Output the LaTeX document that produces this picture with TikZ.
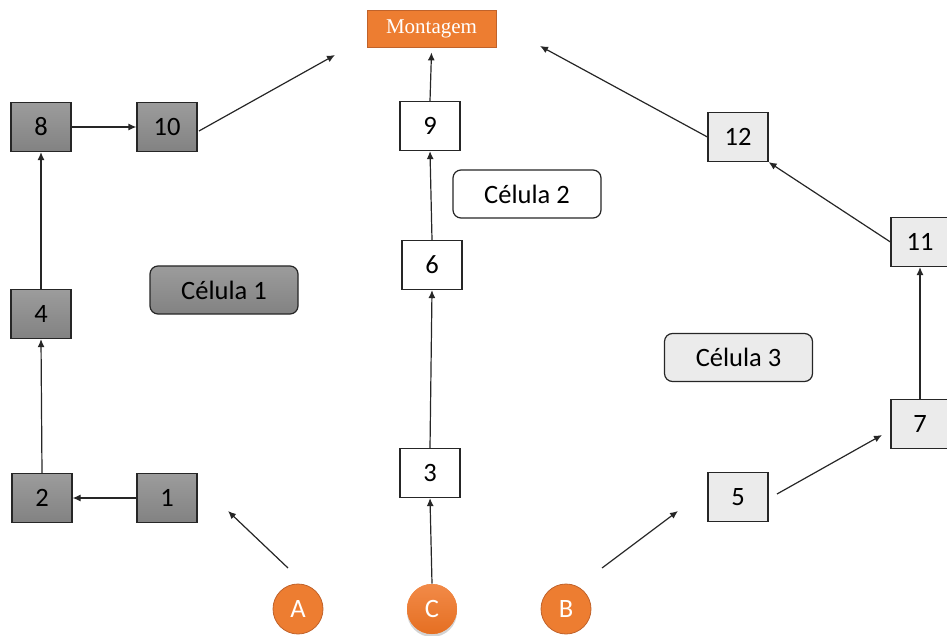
\documentclass[tikz,border=0pt]{standalone}
\usepackage{fontspec}
\setmainfont{Carlito}
\newfontfamily\titleface{Liberation Serif}
\usetikzlibrary{arrows.meta,shadows}

\definecolor{linegray}{HTML}{262626}
\definecolor{darkA}{HTML}{9C9C9C}
\definecolor{darkB}{HTML}{828282}
\definecolor{lightbox}{HTML}{EBEBEB}
\definecolor{orangefill}{HTML}{ED7D31}
\definecolor{orangeedge}{HTML}{C0622A}
\definecolor{orangetop}{HTML}{F28A48}
\definecolor{orangebot}{HTML}{E56F22}

\begin{document}
\begin{tikzpicture}[x=1pt,y=-1pt,
  every node/.style={inner sep=0pt, font=\fontsize{26.5}{30}\selectfont},
  station/.style={draw=linegray, line width=1.2pt, minimum width=60pt, minimum height=49pt},
  darkst/.style={station, top color=darkA, bottom color=darkB},
  whitest/.style={station, fill=white},
  lightst/.style={station, fill=lightbox},
  cellbox/.style={draw=linegray, line width=1.2pt, rounded corners=8pt, minimum width=148pt, minimum height=48pt},
  source/.style={circle, minimum size=50pt, text=white, draw=orangeedge, line width=0.8pt, fill=orangefill},
  conn/.style={draw=linegray, line width=1.2pt, -{Latex[length=8pt,width=7pt]}}]

\useasboundingbox (0,0) rectangle (947,636);

% assembly target
\node[draw=orangeedge, line width=0.8pt, fill=orangefill, minimum width=129pt, minimum height=37pt,
      text=white, font=\titleface\fontsize{21}{24}\selectfont] (mont) at (431.5,28.5) {Montagem};

% cell 1
\node[darkst] (s8)  at (41,127)  {8};
\node[darkst] (s10) at (167,127) {10};
\node[darkst] (s4)  at (41,314)  {4};
\node[darkst] (s2)  at (42,498)  {2};
\node[darkst] (s1)  at (167,498) {1};
\node[cellbox, top color=darkA, bottom color=darkB] (c1) at (224,290) {Célula 1};

% cell 2
\node[whitest] (s9) at (430,126) {9};
\node[whitest] (s6) at (432,265) {6};
\node[whitest] (s3) at (430,473) {3};
\node[cellbox, fill=white] (c2) at (527,194) {Célula 2};

% cell 3
\node[lightst] (s12) at (738,137) {12};
\node[lightst, minimum width=58pt] (s11) at (920,242) {11};
\node[lightst, minimum width=58pt] (s7)  at (920,424) {7};
\node[lightst] (s5)  at (738,497) {5};
\node[cellbox, fill=lightbox] (c3) at (738.5,357.5) {Célula 3};

% part sources
\node[source] (pa) at (298,609) {A};
\node[source, draw=none, top color=orangetop, bottom color=orangebot,
      drop shadow={opacity=0.35, shadow xshift=0pt, shadow yshift=-3pt}] (pc) at (432,609) {C};
\node[source] (pb) at (566,609) {B};

% free ends of the open connectors
\coordinate (m10) at (335,55);
\coordinate (t10) at (199,131);
\coordinate (m12) at (540,46);
\coordinate (a0) at (288,568);
\coordinate (a1) at (228,511);
\coordinate (b0) at (602,568);
\coordinate (b1) at (678,511);
\coordinate (t5) at (777,494);
\coordinate (h7) at (882,435);

% flows
\draw[conn] (s1.west) -- (s2.east);
\draw[conn] (s2.north) -- (s4.south);
\draw[conn] (s4.north) -- (s8.south);
\draw[conn] (s8.east) -- (s10.west);
\draw[conn] (t10) -- (m10);

\draw[conn] (pc.north) -- (s3.south);
\draw[conn] (s3.north) -- (s6.south);
\draw[conn] (s6.north) -- (s9.south);
\draw[conn] (s9.north) -- ([yshift=-5pt]mont.south);

\draw[conn] (a0) -- (a1);
\draw[conn] (b0) -- (b1);
\draw[conn] (t5) -- (h7);
\draw[conn] (s7.north) -- (s11.south);
\draw[conn] (s11.west) -- (s12.south east);
\draw[conn] (s12.west) -- (m12);
\end{tikzpicture}
\end{document}
